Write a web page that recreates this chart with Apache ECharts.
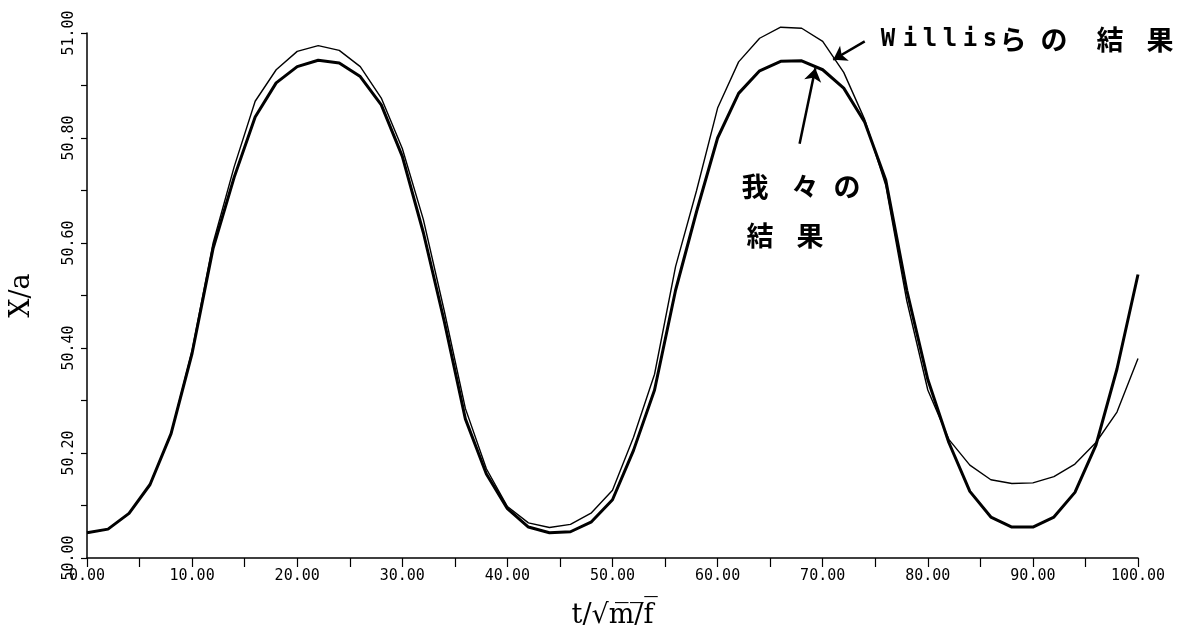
<!DOCTYPE html>
<html>
<head>
<meta charset="utf-8">
<script src="https://cdn.jsdelivr.net/npm/echarts@6/dist/echarts.min.js"></script>
<style>
  html, body { margin: 0; background: #fff; }
  #chart { width: 1186px; height: 640px; }
</style>
</head>
<body>
<div id="chart"></div>
<script>
// t / sqrt(m/f)
const timeSteps = [0, 2, 4, 6, 8, 10, 12, 14, 16, 18, 20, 22, 24, 26, 28, 30, 32, 34, 36, 38, 40,
  42, 44, 46, 48, 50, 52, 54, 56, 58, 60, 62, 64, 66, 68, 70, 72, 74, 76, 78, 80,
  82, 84, 86, 88, 90, 92, 94, 96, 98, 100];
// 我々の結果 (thick line)
const ourResult = [50.048, 50.055, 50.085, 50.140, 50.237, 50.390, 50.590, 50.725, 50.840, 50.905, 50.936,
  50.948, 50.943, 50.917, 50.863, 50.765, 50.620, 50.450, 50.265, 50.160, 50.094,
  50.059, 50.048, 50.050, 50.069, 50.111, 50.205, 50.320, 50.510, 50.660, 50.800,
  50.885, 50.928, 50.946, 50.947, 50.930, 50.895, 50.830, 50.720, 50.510, 50.340,
  50.220, 50.127, 50.078, 50.059, 50.059, 50.078, 50.125, 50.215, 50.360, 50.540];
// Willisらの結果 (thin line)
const willisResult = [50.048, 50.055, 50.085, 50.140, 50.237, 50.395, 50.600, 50.745, 50.870, 50.930, 50.965,
  50.976, 50.967, 50.936, 50.876, 50.780, 50.645, 50.470, 50.285, 50.170, 50.098,
  50.067, 50.058, 50.064, 50.086, 50.129, 50.230, 50.350, 50.555, 50.700, 50.857,
  50.945, 50.990, 51.011, 51.009, 50.984, 50.925, 50.835, 50.710, 50.490, 50.320,
  50.226, 50.177, 50.149, 50.142, 50.143, 50.155, 50.179, 50.220, 50.278, 50.380];

// arrows pointing at each curve, in data coordinates [t, X/a]
const willisArrow = [[74.0, 50.984], [71.0, 50.949]];
const ourArrow = [[67.8, 50.789], [69.3, 50.933]];

// annotation glyphs
const willisGlyphs = ['W', 'i', 'l', 'l', 'i', 's', 'ら', 'の', '結', '果'];
const ourGlyphsTop = ['我', '々', 'の'];
const ourGlyphsBottom = ['結', '果'];

const monoFont = 'DejaVu Sans Mono';
const cjkFont = 'Noto Sans CJK JP';

function glyphTexts(glyphs, xs, y) {
  return glyphs.map(function (g, i) {
    const latin = /[A-Za-z]/.test(g);
    return {
      type: 'text',
      x: xs[i],
      y: y,
      style: {
        text: g,
        fill: '#000',
        font: latin ? 'bold 24px "' + monoFont + '"' : 'bold 27px "' + cjkFont + '"',
        align: 'center',
        verticalAlign: 'middle'
      }
    };
  });
}

const chart = echarts.init(document.getElementById('chart'));
chart.setOption({
  backgroundColor: '#fff',
  animation: false,
  grid: {
    left: 87,
    right: 48,
    top: 33,
    bottom: 82
  },
  xAxis: {
    type: 'value',
    min: 0,
    max: 100,
    interval: 10,
    name: 't/√m̅/̅f̅',
    nameLocation: 'middle',
    nameGap: 44,
    nameTextStyle: {
      fontFamily: 'DejaVu Serif',
      fontSize: 27,
      color: '#000'
    },
    axisLine: { lineStyle: { color: '#000', width: 1.5 } },
    axisTick: { show: true, length: 9, lineStyle: { color: '#000', width: 1.2 } },
    minorTick: { show: true, splitNumber: 2, length: 9, lineStyle: { color: '#000', width: 1.2 } },
    splitLine: { show: false },
    axisLabel: {
      color: '#000',
      fontFamily: monoFont,
      fontSize: 15,
      margin: 11,
      formatter: function (v) { return v.toFixed(2); }
    }
  },
  yAxis: {
    type: 'value',
    min: 50,
    max: 51,
    interval: 0.2,
    name: 'X/a',
    nameLocation: 'middle',
    nameGap: 52,
    nameRotate: 90,
    nameTextStyle: {
      fontFamily: 'DejaVu Serif',
      fontSize: 27,
      color: '#000'
    },
    axisLine: { lineStyle: { color: '#000', width: 1.5 } },
    axisTick: { show: true, length: 6, lineStyle: { color: '#000', width: 1.2 } },
    minorTick: { show: true, splitNumber: 2, length: 6, lineStyle: { color: '#000', width: 1.2 } },
    splitLine: { show: false },
    axisLabel: {
      color: '#000',
      fontFamily: monoFont,
      fontSize: 15,
      rotate: 90,
      margin: 10,
      formatter: function (v) { return v.toFixed(2); }
    }
  },
  series: [
    {
      name: 'Willisらの結果',
      type: 'line',
      clip: false,
      data: timeSteps.map(function (t, i) { return [t, willisResult[i]]; }),
      showSymbol: false,
      lineStyle: { color: '#000', width: 1.4 },
      markLine: {
        silent: true,
        symbol: ['none', 'arrow'],
        symbolSize: 13,
        label: { show: false },
        lineStyle: { color: '#000', width: 2.5, type: 'solid' },
        data: [[{ coord: willisArrow[0] }, { coord: willisArrow[1] }]]
      }
    },
    {
      name: '我々の結果',
      type: 'line',
      clip: false,
      data: timeSteps.map(function (t, i) { return [t, ourResult[i]]; }),
      showSymbol: false,
      lineStyle: { color: '#000', width: 3 },
      markLine: {
        silent: true,
        symbol: ['none', 'arrow'],
        symbolSize: 13,
        label: { show: false },
        lineStyle: { color: '#000', width: 2.5, type: 'solid' },
        data: [[{ coord: ourArrow[0] }, { coord: ourArrow[1] }]]
      }
    }
  ],
  graphic: [].concat(
    glyphTexts(willisGlyphs, [888, 910, 930, 950, 970, 990, 1013, 1054, 1110, 1160], 40),
    glyphTexts(ourGlyphsTop, [755, 805, 847], 187),
    glyphTexts(ourGlyphsBottom, [760, 810], 236)
  )
});
</script>
</body>
</html>
